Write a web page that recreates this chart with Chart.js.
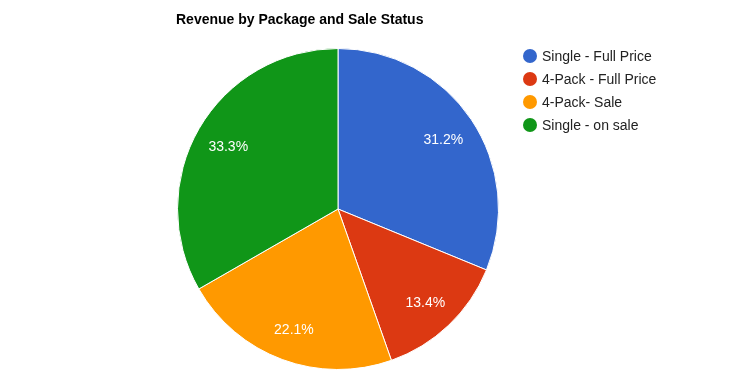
<!DOCTYPE html>
<html>
<head>
<meta charset="utf-8">
<script src="https://cdn.jsdelivr.net/npm/chart.js@4/dist/chart.umd.min.js"></script>
<style>
  html, body { margin: 0; padding: 0; background: #fff; }
  #wrap { position: relative; width: 750px; height: 375px; font-family: "Liberation Sans", Arial, sans-serif; }
  #title { position: absolute; left: 176px; top: 11px; font-size: 14px; font-weight: bold; color: #000; }
  #legend { position: absolute; left: 523px; top: 44px; }
  .item { display: flex; align-items: center; height: 23px; font-size: 14px; color: #222; }
  .dot { width: 14px; height: 14px; border-radius: 50%; margin-right: 5px; }
</style>
</head>
<body>
<div id="wrap">
  <canvas id="pieChart" width="750" height="375"></canvas>
  <div id="title">Revenue by Package and Sale Status</div>
  <div id="legend"></div>
</div>
<script>
// data
const labels = ['Single - Full Price', '4-Pack - Full Price', '4-Pack- Sale', 'Single - on sale'];
const shares = [31.2, 13.4, 22.1, 33.3];
const colors = ['#3366cc', '#dc3912', '#ff9900', '#109618'];

// legend in html
const legend = document.getElementById('legend');
labels.forEach((l, i) => {
    legend.innerHTML += `<div class="item"><span class="dot" style="background:${colors[i]}"></span>${l}</div>`;
});

// percent text inside each slice
const sliceText = {
    id: 'sliceText',
    afterDatasetsDraw(chart) {
        const c = chart.ctx;
        const meta = chart.getDatasetMeta(0);
        const total = shares.reduce((a, b) => a + b, 0);
        c.save();
        c.font = '14px "Liberation Sans", Arial, sans-serif';
        c.fillStyle = '#fff';
        c.textAlign = 'center';
        c.textBaseline = 'middle';
        meta.data.forEach((arc, i) => {
            const p = arc.getProps(['x', 'y', 'startAngle', 'endAngle', 'outerRadius']);
            const mid = (p.startAngle + p.endAngle) / 2;
            const r = p.outerRadius * 0.79;
            const txt = (shares[i] / total * 100).toFixed(1) + '%';
            c.fillText(txt, p.x + Math.cos(mid) * r, p.y + Math.sin(mid) * r + 2);
        });
        c.restore();
    }
};

const ctx = document.getElementById('pieChart').getContext('2d');
const myChart = new Chart(ctx, {
    type: 'pie',
    data: {
        labels: labels,
        datasets: [{
            data: shares,
            backgroundColor: colors,
            borderColor: '#fff',
            borderWidth: 1
        }]
    },
    options: {
        responsive: false,
        animation: false,
        layout: { padding: { left: 177, right: 251, top: 48, bottom: 5 } },
        plugins: {
            legend: { display: false },
            tooltip: { enabled: false }
        }
    },
    plugins: [sliceText]
});
</script>
</body>
</html>
